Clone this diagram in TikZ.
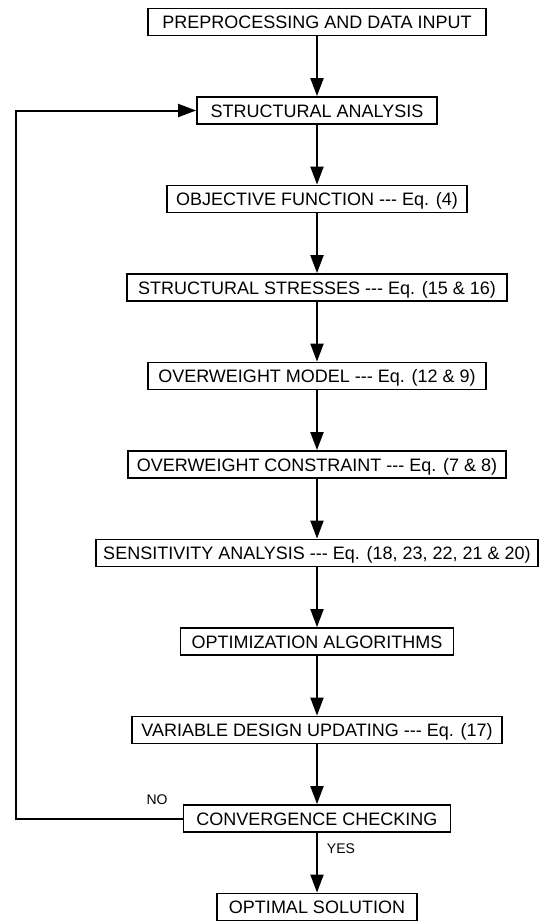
\documentclass[tikz,border=0pt]{standalone}
\usepackage{fontspec}
\setmainfont{Liberation Sans}
\usetikzlibrary{arrows.meta}

\begin{document}
\begin{tikzpicture}[x=1pt,y=-1pt,
    stage/.style={draw,line width=1.8pt,font=\fontsize{18}{21}\selectfont,inner xsep=7pt,inner ysep=0pt,
      minimum height=27pt,text height=13pt,text depth=0pt},
    flow/.style={line width=2pt,-{Triangle[length=18pt,width=13pt]}},
    answer/.style={font=\fontsize{14}{16}\selectfont}]
  \useasboundingbox (0,0) rectangle (547,922);

  \foreach[count=\i,evaluate={\y=22+88.5*(\i-1);}] \stagetext/\w in {
      PREPROCESSING AND DATA INPUT/338,
      STRUCTURAL ANALYSIS/240,
      OBJECTIVE FUNCTION -{}-{}- Eq. (4)/300,
      STRUCTURAL STRESSES -{}-{}- Eq. (15 \& 16)/380,
      OVERWEIGHT MODEL -{}-{}- Eq. (12 \& 9)/338,
      OVERWEIGHT CONSTRAINT -{}-{}- Eq. (7 \& 8)/378,
      {SENSITIVITY ANALYSIS -{}-{}- Eq. (18, 23, 22, 21 \& 20)}/440,
      OPTIMIZATION ALGORITHMS/273,
      VARIABLE DESIGN UPDATING -{}-{}- Eq. (17)/370,
      CONVERGENCE CHECKING/267,
      OPTIMAL SOLUTION/200} {
    \node[stage,minimum width=\w pt] (s\i) at (317,\y) {\stagetext};
  }

  \foreach[evaluate={\j=int(\i+1);}] \i in {1,...,10} {
    \draw[flow] (s\i) -- (s\j);
  }

  % loop back when not converged
  \coordinate (back) at (16,0);
  \draw[flow] (s10.west) -- (s10.west -| back) |- (s2.west);
  \node[answer] (no) at (157,800) {NO};
  \node[answer] (yes) at (341,849) {YES};
\end{tikzpicture}
\end{document}
